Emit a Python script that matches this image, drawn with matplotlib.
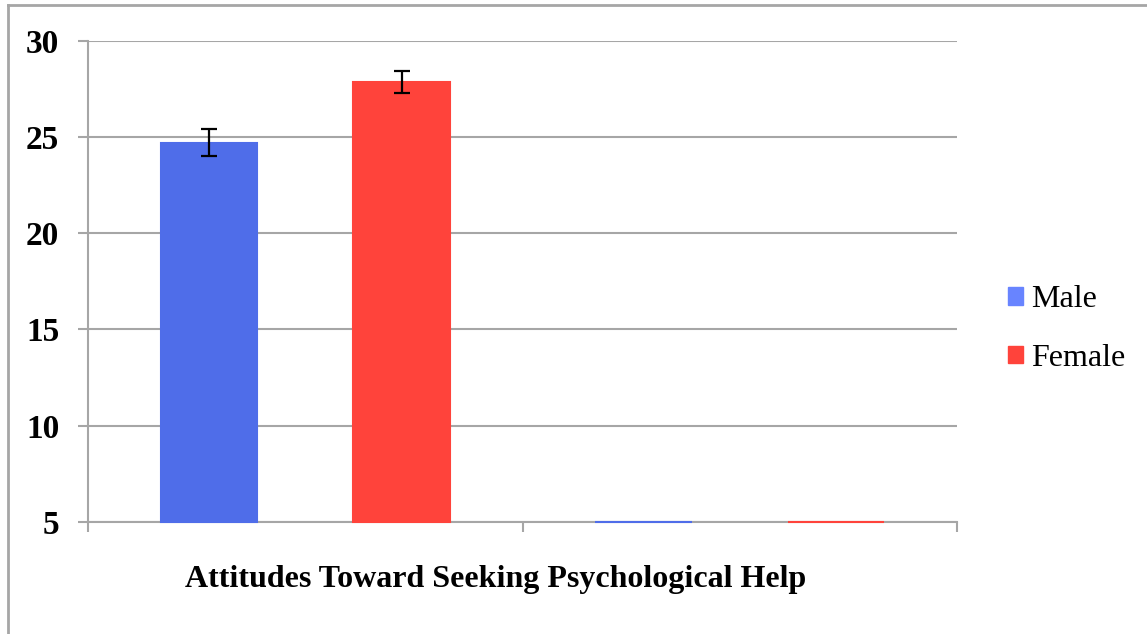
import matplotlib.pyplot as plt
import matplotlib.lines as mlines
import matplotlib.patches as mpatches
import numpy as np

plt.rcParams['font.family'] = ['Liberation Serif', 'DejaVu Serif']

# data
categories = ['Attitudes Toward Seeking Psychological Help', '']
series = ['Male', 'Female']
male_means = [24.7, 0]
female_means = [27.85, 0]
male_err = [0.7, 0]
female_err = [0.55, 0]
bar_colors = ['#4f6de9', '#ff433b']
legend_colors = ['#6884ff', '#ff433b']
y_ticks = [5, 10, 15, 20, 25, 30]
Y_MIN = 5

fig = plt.figure(figsize=(11.47, 6.34), dpi=100)
ax = fig.add_axes([0.0767, 0.1767, 0.7577, 0.7594])

# outer frame of the chart (only top and left edges visible)
fig.add_artist(mlines.Line2D([8 / 1147, 8 / 1147], [1 - 5 / 634, 0], color='#a6a6a6', lw=2,
                             transform=fig.transFigure))
fig.add_artist(mlines.Line2D([8 / 1147, 1], [1 - 5 / 634, 1 - 5 / 634], color='#a6a6a6', lw=2,
                             transform=fig.transFigure))

x = np.arange(len(categories))
width = 0.222
offsets = [-width, width]
all_means = [male_means, female_means]
all_err = [male_err, female_err]

for i, name in enumerate(series):
    heights = [max(v - Y_MIN, 0) for v in all_means[i]]
    bars = ax.bar(x + offsets[i], heights, width, bottom=Y_MIN, color=bar_colors[i],
                  edgecolor=bar_colors[i], linewidth=1.5, zorder=3)
    for b in bars:
        b.set_clip_on(False)
    # error bars only where there is a value
    for j, v in enumerate(all_means[i]):
        if v > Y_MIN:
            ax.errorbar(x[j] + offsets[i], v, yerr=all_err[i][j], fmt='none',
                        ecolor='black', elinewidth=1.6, capsize=6, capthick=1.6, zorder=4)

ax.set_ylim(Y_MIN, 30)
ax.set_xlim(-0.5, len(categories) - 0.5)
ax.set_yticks(y_ticks)
ax.set_yticklabels([str(t) for t in y_ticks], fontsize=24, fontweight='bold')
ax.yaxis.grid(True, color='#a6a6a6', linewidth=1.5, zorder=0)
ax.set_axisbelow(True)

# category boundary ticks on the x axis
ax.set_xticks([-0.5, 0.5, 1.5])
ax.set_xticklabels([])
ax.tick_params(axis='x', length=7.2, width=1.5, color='#a6a6a6')
ax.tick_params(axis='y', length=7.2, width=1.5, color='#a6a6a6', pad=13.5)
ax.text(0.4695, -0.12, categories[0], transform=ax.transAxes, ha='center', va='center',
        fontsize=23, fontweight='bold')

for s in ['top', 'right']:
    ax.spines[s].set_visible(False)
for s in ['left', 'bottom']:
    ax.spines[s].set_color('#a6a6a6')
    ax.spines[s].set_linewidth(1.5)

handles = [mpatches.Patch(color=legend_colors[i], label=series[i]) for i in range(len(series))]
fig.legend(handles=handles, loc='center left', bbox_to_anchor=(0.879, 0.481), frameon=False,
           fontsize=23, handlelength=0.47, handleheight=0.47, handletextpad=0.25,
           labelspacing=0.92, borderpad=0, borderaxespad=0)

fig.savefig('out.png', dpi=100)
